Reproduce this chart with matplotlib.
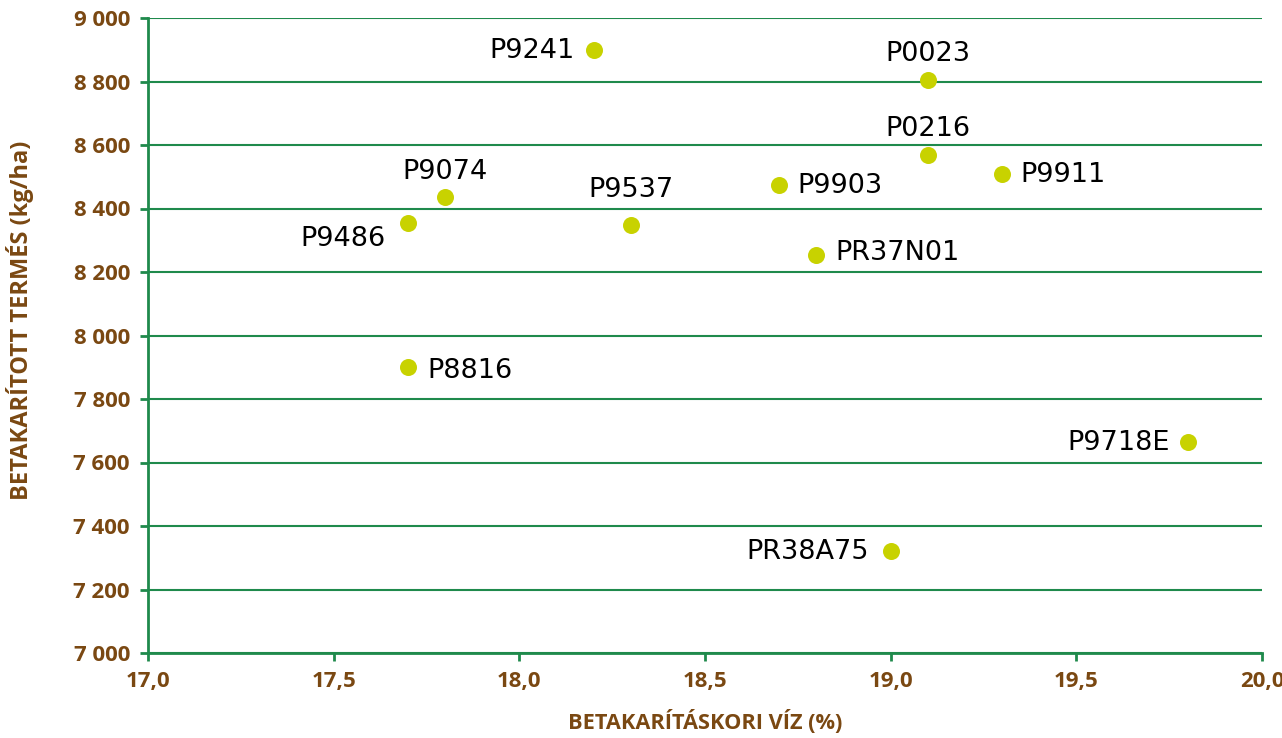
import matplotlib
matplotlib.use('Agg')
import matplotlib.pyplot as plt
from matplotlib.ticker import FuncFormatter

# hibridek: betakarításkori víz (%) és termés (kg/ha)
names = ['P9241', 'P0023', 'P0216', 'P9911', 'P9903', 'P9074', 'P9486',
         'P9537', 'PR37N01', 'P8816', 'P9718E', 'PR38A75']
water = [18.2, 19.1, 19.1, 19.3, 18.7, 17.8, 17.7, 18.3, 18.8, 17.7, 19.8, 19.0]
yield_ = [8900, 8805, 8570, 8510, 8475, 8435, 8355, 8348, 8252, 7900, 7665, 7322]

# címke eltolások (pont) és igazítás
offsets = {
    'P9241': (-14, -1, 'right', 'center'),
    'P0023': (0, 9, 'center', 'bottom'),
    'P0216': (0, 9, 'center', 'bottom'),
    'P9911': (13, -1, 'left', 'center'),
    'P9903': (13, -1, 'left', 'center'),
    'P9074': (0, 9, 'center', 'bottom'),
    'P9486': (-16, -12, 'right', 'center'),
    'P9537': (0, 16, 'center', 'bottom'),
    'PR37N01': (14, 2, 'left', 'center'),
    'P8816': (14, -3, 'left', 'center'),
    'P9718E': (-13, -1, 'right', 'center'),
    'PR38A75': (-16, -1, 'right', 'center'),
}

green = '#1f8a4c'
brown = '#7a4812'
dot = '#c8d200'
lab_font = 'Open Sans'

fig = plt.figure(figsize=(12.82, 7.38), dpi=100)
ax = fig.add_axes([148 / 1282, 1 - 653 / 738, (1262 - 148) / 1282, (653 - 18) / 738])

ax.scatter(water, yield_, s=150, color=dot, zorder=3, linewidths=0)
for n, x, y in zip(names, water, yield_):
    dx, dy, ha, va = offsets[n]
    ax.annotate(n, (x, y), xytext=(dx, dy), textcoords='offset points',
                ha=ha, va=va, fontsize=19.5, color='black', family='DejaVu Sans')

ax.set_xlim(17, 20)
ax.set_ylim(7000, 9000)
ax.set_xticks([17.0, 17.5, 18.0, 18.5, 19.0, 19.5, 20.0])
ax.set_yticks(range(7000, 9001, 200))
ax.xaxis.set_major_formatter(FuncFormatter(lambda v, p: f'{v:.1f}'.replace('.', ',')))
ax.yaxis.set_major_formatter(FuncFormatter(lambda v, p: f'{int(v):,}'.replace(',', ' ')))

ax.grid(axis='y', color=green, linewidth=1.5)
ax.set_axisbelow(True)
for s in ['top', 'right']:
    ax.spines[s].set_visible(False)
for s in ['left', 'bottom']:
    ax.spines[s].set_color(green)
    ax.spines[s].set_linewidth(2)
ax.tick_params(colors=green, width=2, length=6, direction='out')
for lab in ax.get_xticklabels() + ax.get_yticklabels():
    lab.set_color(brown)
    lab.set_fontweight('bold')
    lab.set_fontsize(16)
    lab.set_family(lab_font)
ax.tick_params(axis='y', pad=7)
ax.tick_params(axis='x', pad=7)

ax.set_xlabel('BETAKARÍTÁSKORI VÍZ (%)', fontsize=15.7, fontweight='bold',
              color=brown, family=lab_font, va='center')
ax.set_ylabel('BETAKARÍTOTT TERMÉS (kg/ha)', fontsize=17, fontweight='bold',
              color=brown, family=lab_font, va='center')
ax.xaxis.set_label_coords(0.5, (653 - 722) / 635)
ax.yaxis.set_label_coords((20 - 148) / 1114, (653 - 320) / 635)

fig.savefig('out.png', dpi=100)
